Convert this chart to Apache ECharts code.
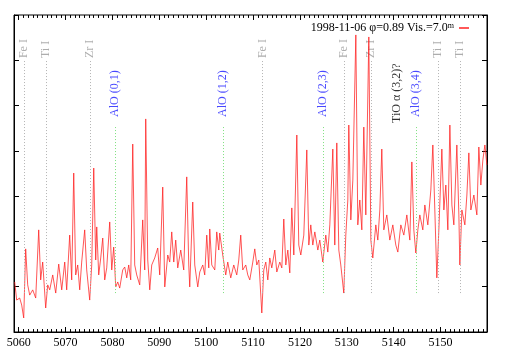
<!DOCTYPE html>
<html>
<head>
<meta charset="utf-8">
<script src="https://cdn.jsdelivr.net/npm/echarts@6/dist/echarts.min.js"></script>
<style>
  html, body { margin: 0; padding: 0; background: #fff; }
  #chart { width: 509px; height: 356px; }
</style>
</head>
<body>
<div id="chart"></div>
<script>
// wavelength (Angstrom) and relative flux
const wave = [
  5059.15, 5059.57, 5060.21, 5060.64, 5061.07, 5061.49, 5061.92, 5062.35, 5062.99, 5063.63,
  5064.27, 5064.69, 5065.12, 5065.76, 5066.19, 5066.62, 5067.26, 5067.90, 5068.54, 5069.18,
  5069.82, 5070.24, 5070.88, 5071.31, 5071.74, 5072.16, 5072.59, 5073.02, 5073.44, 5074.08,
  5074.51, 5075.15, 5075.58, 5076.01, 5076.43, 5076.65, 5077.07, 5077.50, 5077.93, 5078.35,
  5078.78, 5079.42, 5079.85, 5080.27, 5080.70, 5081.13, 5081.55, 5082.19, 5082.62, 5083.05,
  5083.47, 5083.90, 5084.33, 5084.75, 5085.18, 5085.82, 5086.46, 5086.89, 5087.10, 5087.53,
  5087.96, 5088.38, 5089.02, 5089.66, 5090.09, 5090.73, 5091.16, 5091.80, 5092.22, 5092.65,
  5093.08, 5093.50, 5093.93, 5094.57, 5095.21, 5095.85, 5096.28, 5096.49, 5097.13, 5097.56,
  5098.20, 5098.63, 5099.27, 5099.69, 5100.12, 5100.55, 5100.76, 5101.19, 5101.83, 5102.25,
  5102.68, 5102.89, 5103.53, 5104.17, 5104.60, 5105.24, 5105.88, 5106.52, 5106.95, 5107.37,
  5107.80, 5108.44, 5108.87, 5109.30, 5109.94, 5110.36, 5110.79, 5111.22, 5111.86, 5112.28,
  5112.71, 5113.14, 5113.56, 5113.99, 5114.63, 5115.06, 5115.70, 5116.13, 5116.55, 5116.98,
  5117.41, 5117.83, 5118.26, 5118.69, 5119.33, 5119.75, 5120.18, 5120.82, 5121.46, 5121.89,
  5122.31, 5122.74, 5123.17, 5123.81, 5124.23, 5124.87, 5125.51, 5125.94, 5126.37, 5127.01,
  5127.43, 5127.86, 5128.29, 5128.71, 5129.35, 5129.78, 5130.21, 5130.42, 5130.85, 5131.28,
  5131.92, 5132.34, 5132.77, 5133.20, 5133.62, 5134.05, 5134.69, 5135.12, 5135.54, 5136.18,
  5136.61, 5137.04, 5137.46, 5137.89, 5138.53, 5139.17, 5139.81, 5140.45, 5140.88, 5141.52,
  5142.16, 5142.80, 5143.44, 5143.87, 5144.29, 5144.72, 5145.15, 5145.57, 5146.21, 5146.64,
  5147.28, 5147.92, 5148.35, 5148.77, 5149.20, 5149.63, 5150.27, 5150.70, 5151.12, 5151.55,
  5151.98, 5152.41, 5152.83, 5153.47, 5153.90, 5154.11, 5154.54, 5155.18, 5155.61, 5156.03,
  5156.46, 5157.10, 5157.74, 5158.16, 5158.59, 5159.02, 5159.45, 5159.87
];
const flux = [
  0.221, 0.141, 0.150, 0.119, 0.062, 0.367, 0.208, 0.163, 0.186, 0.150,
  0.451, 0.230, 0.309, 0.106, 0.208, 0.186, 0.252, 0.172, 0.300, 0.186,
  0.309, 0.186, 0.428, 0.230, 0.702, 0.252, 0.296, 0.186, 0.309, 0.451,
  0.274, 0.141, 0.296, 0.724, 0.318, 0.464, 0.252, 0.327, 0.415, 0.230,
  0.283, 0.486, 0.274, 0.375, 0.199, 0.221, 0.194, 0.274, 0.287, 0.239,
  0.296, 0.230, 0.830, 0.296, 0.252, 0.208, 0.495, 0.274, 0.941, 0.318,
  0.186, 0.296, 0.327, 0.371, 0.252, 0.640, 0.199, 0.340, 0.309, 0.442,
  0.309, 0.406, 0.283, 0.362, 0.274, 0.685, 0.296, 0.199, 0.574, 0.296,
  0.199, 0.265, 0.296, 0.252, 0.428, 0.283, 0.455, 0.296, 0.274, 0.442,
  0.362, 0.437, 0.340, 0.252, 0.309, 0.239, 0.296, 0.252, 0.318, 0.428,
  0.274, 0.296, 0.252, 0.230, 0.309, 0.367, 0.296, 0.318, 0.084, 0.274,
  0.309, 0.230, 0.327, 0.283, 0.362, 0.265, 0.309, 0.283, 0.499, 0.296,
  0.362, 0.261, 0.548, 0.340, 0.870, 0.384, 0.340, 0.428, 0.804, 0.384,
  0.473, 0.384, 0.442, 0.362, 0.406, 0.309, 0.428, 0.353, 0.473, 0.808,
  0.384, 0.835, 0.362, 0.296, 0.172, 0.428, 0.583, 0.914, 0.495, 0.671,
  1.312, 0.473, 0.583, 0.451, 0.905, 0.517, 1.303, 0.406, 0.327, 0.473,
  0.406, 0.539, 0.808, 0.451, 0.517, 0.406, 0.473, 0.384, 0.353, 0.473,
  0.428, 0.517, 0.406, 0.751, 0.451, 0.349, 0.451, 0.517, 0.451, 0.561,
  0.473, 0.627, 0.826, 0.539, 0.239, 0.451, 0.808, 0.539, 0.649, 0.451,
  0.914, 0.561, 0.473, 0.826, 0.517, 0.296, 0.539, 0.473, 0.605, 0.791,
  0.539, 0.605, 0.517, 0.817, 0.649, 0.760, 0.826, 0.738
];

// line identifications
const atomNames = ['Fe I', 'Ti I', 'Zr I', 'Fe I', 'Fe I', 'Zr I', 'Ti I', 'Ti I'];
const atomWaves = [5061.1, 5065.8, 5075.2, 5112.0, 5129.4, 5135.2, 5149.5, 5154.2];
const aloNames = ['AlO (0,1)', 'AlO (1,2)', 'AlO (2,3)', 'AlO (3,4)'];
const aloWaves = [5080.6, 5103.6, 5124.9, 5144.8];
const tioName = 'TiO α (3,2)?';
const tioWave = 5140.6;

const xTicks = [5060, 5070, 5080, 5090, 5100, 5110, 5120, 5130, 5140, 5150];
const seriesName = '1998-11-06 φ=0.89 Vis.=7.0m';

const FONT = 'Liberation Serif';
const X_MIN = 5059, X_MAX = 5159.9;
const Y_MIN = 0, Y_MAX = 1.4;
const LINE_BOT = 0.172, ATOM_TOP = 1.201, ALO_TOP = 0.910, TIO_BASE = 0.923;
const MAJOR_LEN = 0.022, MINOR_LEN = 0.013;   // tick lengths in flux units (~5px, ~3px)

const chart = echarts.init(document.getElementById('chart'));

const marks = [];
const labels = [];
atomWaves.forEach((w, i) => {
  marks.push([{ coord: [w, LINE_BOT] }, { coord: [w, ATOM_TOP], lineStyle: { color: '#b4b4b4' } }]);
  labels.push({ value: [w, ATOM_TOP], name: atomNames[i], label: { color: '#999', distance: 2 } });
});
aloWaves.forEach((w, i) => {
  marks.push([{ coord: [w, LINE_BOT] }, { coord: [w, ALO_TOP], lineStyle: { color: '#7fe07f' } }]);
  labels.push({ value: [w, ALO_TOP], name: aloNames[i], label: { color: '#1a1aff', distance: 9 } });
});
labels.push({ value: [tioWave, TIO_BASE], name: tioName, label: { color: '#000', distance: 0 } });

// x ticks (gnuplot style, inward on top and bottom): 10 A major, 1 A minor
const tickStyle = { type: 'solid', color: '#000', width: 1 };
const tickMarks = [];
for (let w = Math.ceil(X_MIN); w <= X_MAX; w++) {
  const len = xTicks.includes(w) ? MAJOR_LEN : MINOR_LEN;
  tickMarks.push([{ coord: [w, Y_MIN] }, { coord: [w, Y_MIN + len], lineStyle: tickStyle }]);
  tickMarks.push([{ coord: [w, Y_MAX] }, { coord: [w, Y_MAX - len], lineStyle: tickStyle }]);
}

const blackLine = { show: true, onZero: false, lineStyle: { color: '#000', width: 1 } };
const yTick = { show: true, inside: true, length: 5, lineStyle: { color: '#000', width: 1 } };

chart.setOption({
  animation: false,
  grid: { left: 14, top: 15, width: 473, height: 317, show: true, borderColor: '#000', borderWidth: 1 },
  legend: {
    right: 35, top: 17,
    itemWidth: 10, itemHeight: 1.5, align: 'right',
    data: [{ name: seriesName, icon: 'rect' }],
    formatter: () => '1998-11-06 φ=0.89 Vis.=7.0{s|m}',
    textStyle: {
      fontFamily: FONT, fontSize: 12, color: '#000',
      rich: { s: { fontFamily: FONT, fontSize: 8, verticalAlign: 'top', lineHeight: 12 } }
    }
  },
  xAxis: {
    type: 'value', min: X_MIN, max: X_MAX, position: 'bottom',
    splitLine: { show: false },
    axisLine: blackLine,
    axisTick: { show: false },
    axisLabel: { customValues: xTicks, color: '#000', fontFamily: FONT, fontSize: 12, margin: 5,
      formatter: v => String(v) }
  },
  yAxis: [
    { type: 'value', position: 'left', min: Y_MIN, max: Y_MAX, interval: 0.2, splitLine: { show: false },
      axisLine: blackLine, axisTick: yTick, axisLabel: { show: false } },
    { type: 'value', position: 'right', min: Y_MIN, max: Y_MAX, interval: 0.2, splitLine: { show: false },
      axisLine: blackLine, axisTick: yTick, axisLabel: { show: false } }
  ],
  series: [
    {
      name: 'ids', type: 'scatter',
      symbolSize: 0, silent: true,
      data: labels,
      label: {
        show: true, position: 'top', rotate: 90, align: 'left', verticalAlign: 'middle',
        fontFamily: FONT, fontSize: 12,
        formatter: p => p.name
      },
      markLine: {
        silent: true, symbol: ['none', 'none'], animation: false,
        label: { show: false },
        lineStyle: { type: [1, 2], width: 1, color: '#b4b4b4' },
        data: marks.concat(tickMarks)
      }
    },
    {
      name: seriesName, type: 'line',
      data: wave.map((w, i) => [w, flux[i]]),
      showSymbol: false,
      color: '#ff2020',
      lineStyle: { color: 'rgba(255,30,30,0.75)', width: 1 }
    }
  ]
});
</script>
</body>
</html>
